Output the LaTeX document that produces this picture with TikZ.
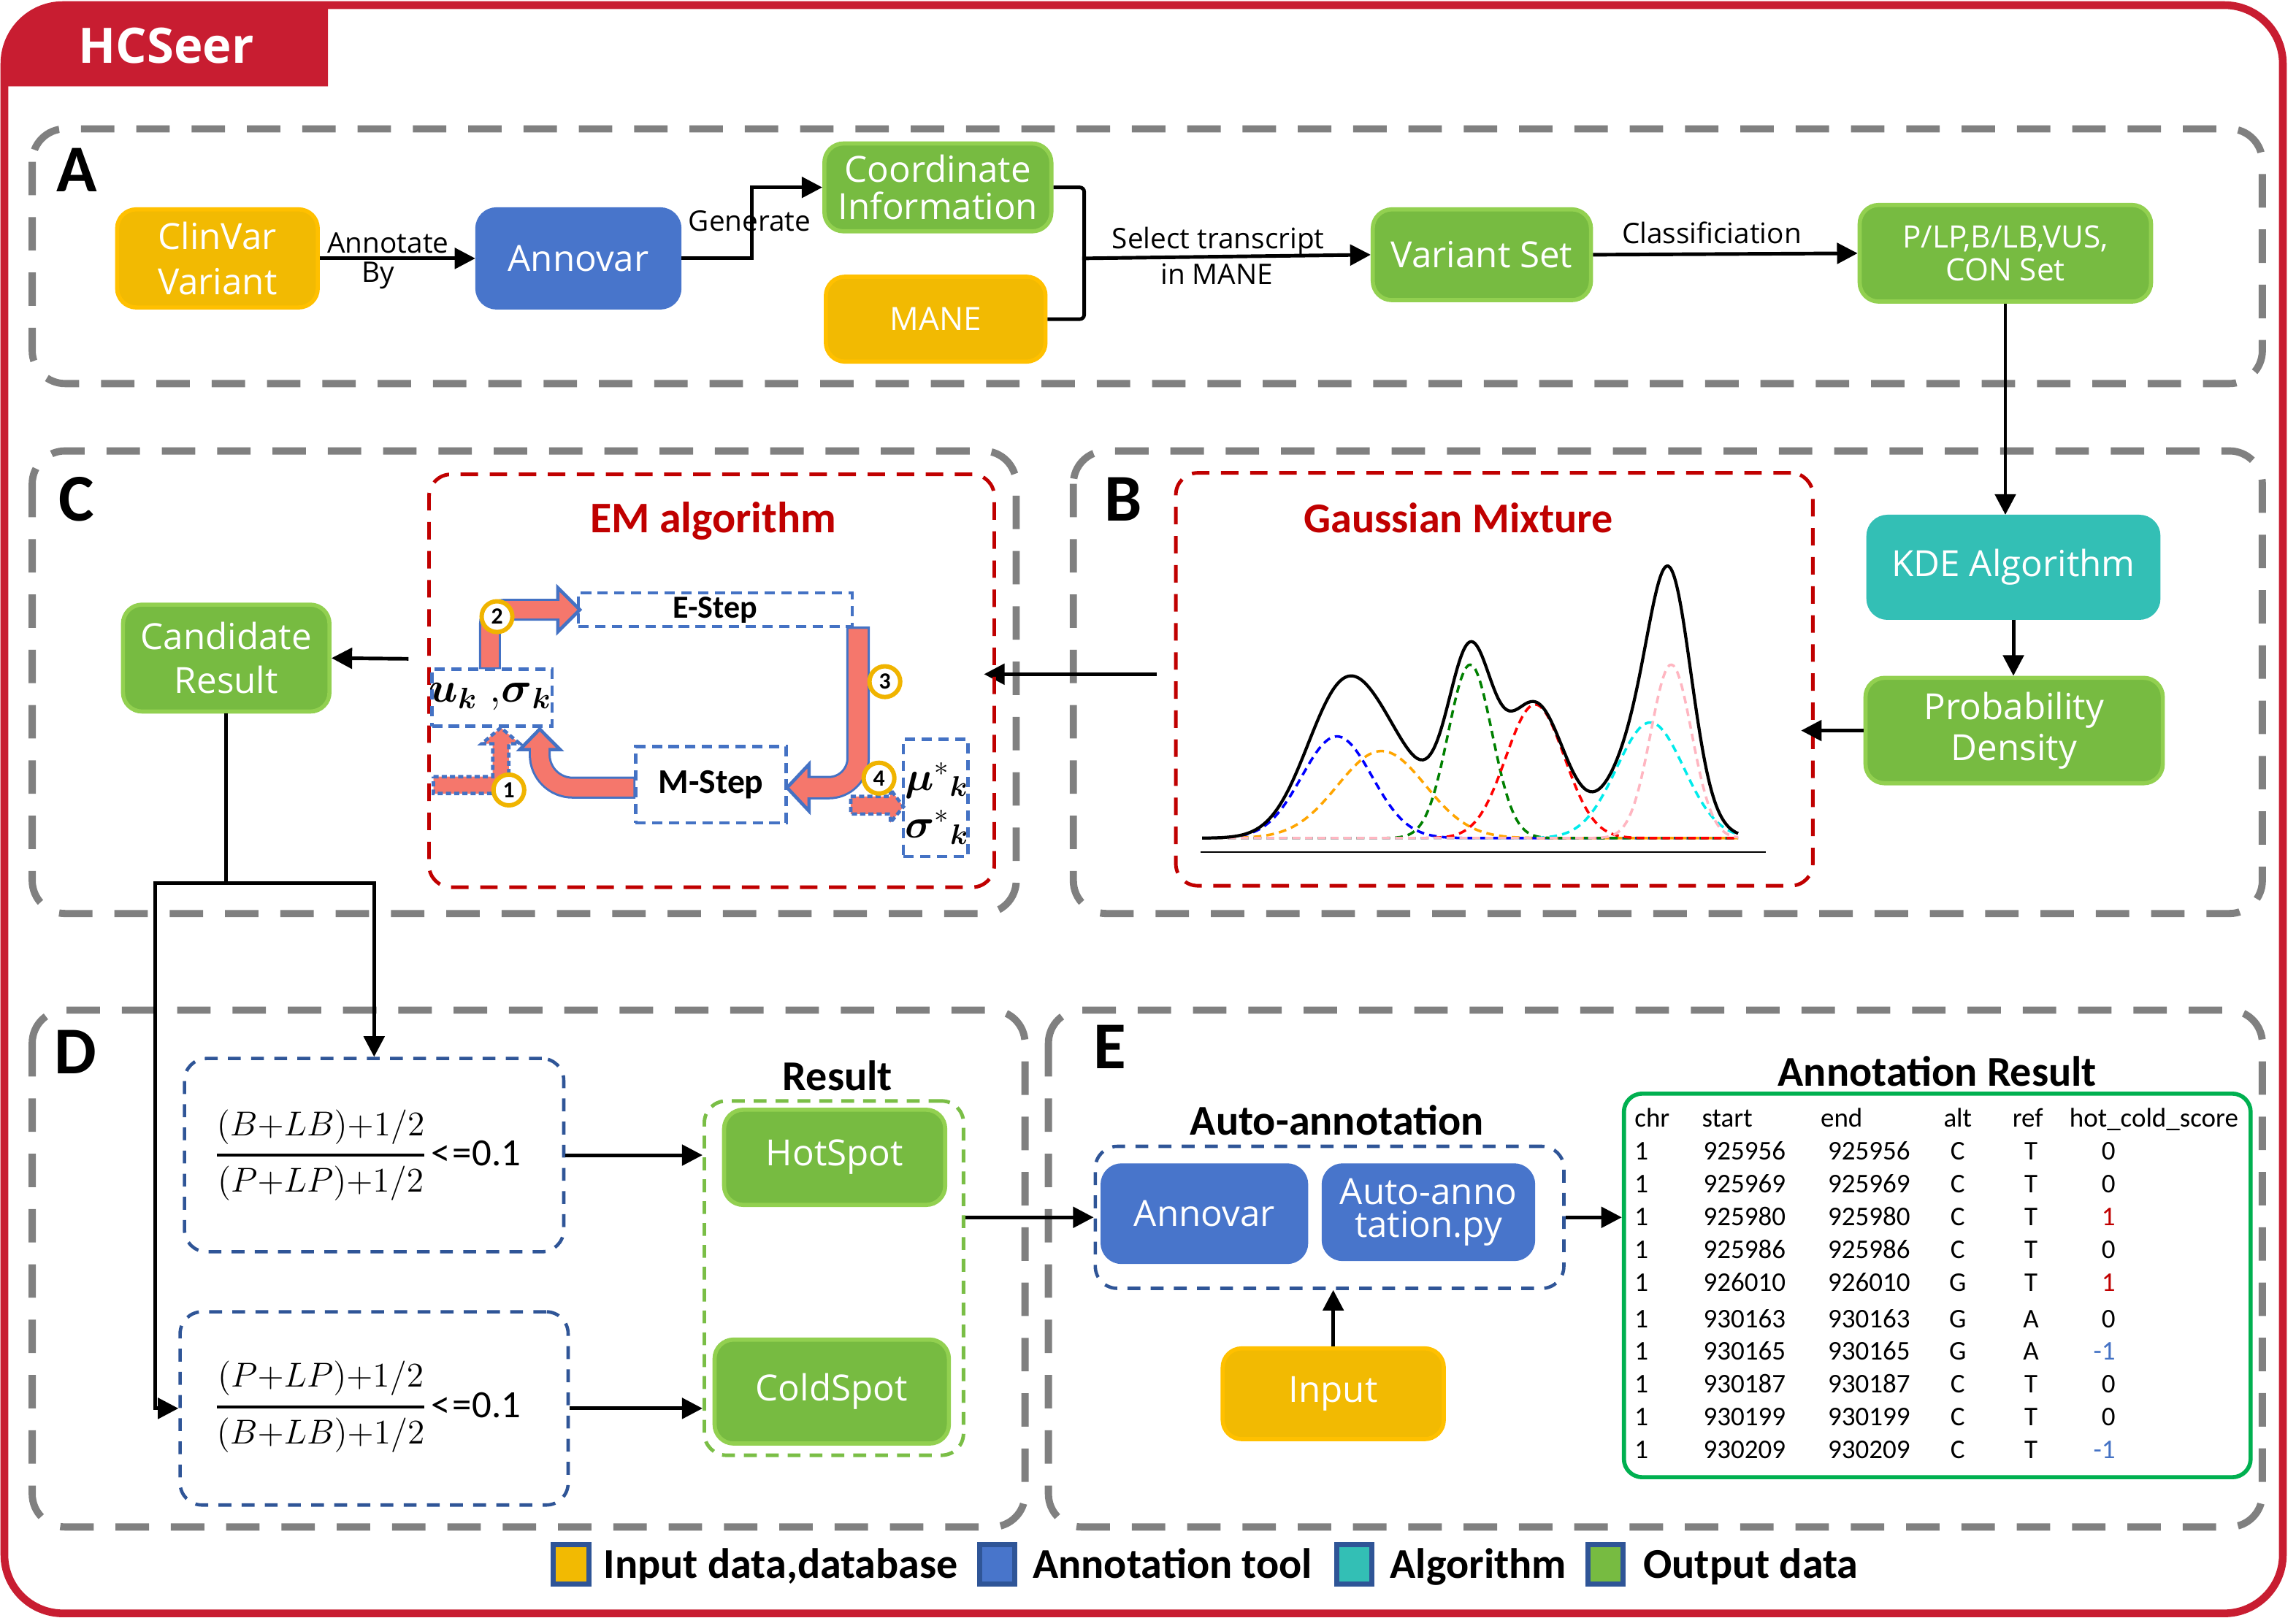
\documentclass[tikz,border=0pt]{standalone}
\usepackage{amsmath}
\usepackage[no-math]{fontspec}
\setmainfont{Carlito}
\newfontfamily\osf{Open Sans}
\usetikzlibrary{arrows.meta}
\definecolor{frame}{RGB}{200,29,49}
\definecolor{dgray}{RGB}{128,128,128}
\definecolor{ylwf}{RGB}{242,186,2}
\definecolor{ylwd}{RGB}{255,192,0}
\definecolor{grnf}{RGB}{119,187,65}
\definecolor{grnd}{RGB}{146,208,80}
\definecolor{bluf}{RGB}{72,117,203}
\definecolor{teaf}{RGB}{51,191,181}
\definecolor{emred}{RGB}{192,0,0}
\definecolor{emblue}{RGB}{68,114,196}
\definecolor{salmon}{RGB}{245,119,108}
\definecolor{circy}{RGB}{240,180,0}
\definecolor{navy}{RGB}{47,85,151}
\definecolor{tgreen}{RGB}{0,176,80}
\definecolor{resgreen}{RGB}{122,190,70}
\definecolor{gpink}{RGB}{255,182,193}
\definecolor{gorange}{RGB}{255,165,0}
\definecolor{ggreen}{RGB}{0,128,0}
\definecolor{gcyan}{RGB}{0,235,235}
\begin{document}
\begin{tikzpicture}[x=0.02cm, y=-0.02cm,
  declare function={gs(\x,\m,\s,\h)=\h*exp(-0.5*min(24,((\x-\m)/\s)^2));
    tot(\x)=gs(\x,913,24,69.5)+gs(\x,943.5,30,59.5)+gs(\x,1004,15,118.5)+gs(\x,1048.4,20,91.3)+gs(\x,1127,23,79)+gs(\x,1141.3,14,118.5);},
  sz/.style 2 args={minimum width=#1*0.02cm, minimum height=#2*0.02cm},
  unode/.style={rounded corners=0.26cm, align=center, text=white, inner sep=0pt, line width=1.6pt, font=\osf\fontsize{14}{17}\selectfont},
  ysty/.style={unode, fill=ylwf, draw=ylwd},
  gsty/.style={unode, fill=grnf, draw=grnd},
  bsty/.style={unode, fill=bluf, draw=bluf},
  tsty/.style={unode, fill=teaf, draw=teaf},
  lbl/.style={inner sep=0pt, font=\osf\fontsize{11}{13}\selectfont},
  sect/.style={draw=dgray, line width=2.8pt, dash pattern=on 13pt off 8.5pt, rounded corners=0.45cm},
  letter/.style={inner sep=0pt, font=\bfseries\fontsize{26}{26}\selectfont},
  ttl/.style={inner sep=0pt, font=\bfseries\fontsize{16.5}{16.5}\selectfont},
  emdash/.style={draw=emred, line width=1.4pt, dash pattern=on 6.8pt off 4.5pt, rounded corners=0.3cm, inner sep=0pt},
  ebox/.style={draw=emblue, line width=1.3pt, dash pattern=on 4pt off 2.5pt, inner sep=0pt},
  fbox/.style={draw=navy, line width=1.3pt, dash pattern=on 5pt off 4pt, rounded corners=0.3cm, inner sep=0pt},
  rbox/.style={draw=resgreen, line width=1.4pt, dash pattern=on 5pt off 3.5pt, rounded corners=0.3cm, inner sep=0pt},
  arr/.style={draw=black, line width=1.4pt, -{Triangle[length=8pt,width=8pt]}},
  conn/.style={draw=black, line width=1.4pt},
  numc/.style={circle, draw=circy, line width=1.7pt, fill=white, minimum size=0.42cm, inner sep=0pt, font=\bfseries\fontsize{9}{9}\selectfont},
  dotarr/.style={fill=salmon, draw=emblue, line width=1.3pt, dash pattern=on 2pt off 1.2pt},
  headarr/.style={fill=salmon, draw=emblue, line width=1.3pt, line join=miter},
  gcomp/.style={line width=1pt, dash pattern=on 3pt off 2pt},
  tx/.style={inner sep=0pt, font=\fontsize{10.5}{10.5}\selectfont},
  mth/.style={inner sep=0pt, font=\fontsize{14}{14}\selectfont},
  lsq/.style={draw=navy, line width=2pt, minimum width=0.48cm, minimum height=0.54cm, inner sep=0pt},
  lgt/.style={inner sep=0pt, font=\bfseries\fontsize{16.5}{16.5}\selectfont}
]
\useasboundingbox (0,0) rectangle (1568,1105);
% frame and title tab
\fill[frame] (224,59) -- (3,59) [rounded corners=0.8cm] -- (3,3.5) [sharp corners] -- (224,3.5) -- cycle;
\draw[frame, line width=3pt, rounded corners=0.8cm] (3,3.5) rectangle (1559,1102);
\node[font=\osf\bfseries\fontsize{19}{19}\selectfont, text=white] (title) at (113.5,31) {HCSeer};

% section frames
\draw[sect] (22,88) rectangle (1545,262);
\draw[sect] (22,308) rectangle (694,624);
\draw[sect] (733,308) rectangle (1545,624);
\draw[sect] (22,690) rectangle (700,1043);
\draw[sect] (716,690) rectangle (1545,1043);
\node[letter] (lA) at (52.7,116) {A};
\node[letter] (lC) at (52,341) {C};
\node[letter] (lB) at (767,341) {B};
\node[letter] (lD) at (51.5,718.5) {D};
\node[letter] (lE) at (758,715) {E};

% ---------- A ----------
\node[ysty, sz={137}{67}, font=\osf\fontsize{14}{17.5}\selectfont] (clinvar) at (148.5,176.5) {ClinVar\\Variant};
\node[bsty, sz={138}{67}] (annA) at (395,176.5) {Annovar};
\node[gsty, sz={155}{60}, font=\osf\fontsize{14}{14.5}\selectfont] (coord) at (640.5,128) {Coordinate\\Information};
\node[ysty, sz={150}{58}, font=\osf\fontsize{12.5}{14}\selectfont] (mane) at (639,218) {MANE};
\node[gsty, sz={149}{62}] (varset) at (1012,174) {Variant Set};
\node[gsty, sz={199}{66}, font=\osf\fontsize{12}{12.5}\selectfont] (plp) at (1369.5,173) {P/LP,B/LB,VUS,\\CON Set};
\node[lbl] (tAnn) at (265,166) {Annotate};
\node[lbl] (tBy) at (258,188) {By};
\node[lbl] (tGen) at (512,151) {Generate};
\node[lbl] (tSel) at (832,165) {Select transcript};
\node[lbl] (tMane) at (831,187) {in MANE};
\node[lbl] (tCls) at (1169,159) {Classificiation};
\draw[arr] (clinvar.east) -- (annA.west);
\draw[arr] (annA.east) -- ++(48,0) |- (coord.west);
\draw[conn, rounded corners=0.06cm] (coord.east) -- ++(21,0) |- (mane.east);
\coordinate (brk) at (739,176.5);
\draw[arr] (brk) -- (varset.west);
\draw[arr] (varset.east) -- (plp.west);

% ---------- B ----------
\node[tsty, sz={198}{69}] (kde) at (1375,387.5) {KDE Algorithm};
\node[gsty, sz={203}{72}, font=\osf\fontsize{14}{16}\selectfont] (pd) at (1375.5,499) {Probability\\Density};
\draw[arr] (plp.south) -- (plp.south |- kde.north);
\draw[arr] (kde.south) -- (kde.south |- pd.north);
\node[emdash, sz={435}{282}] (gmbox) at (1020.5,464) {};
\node[ttl, text=emred] (gmt) at (996,354) {Gaussian Mixture};
\coordinate (pdin) at (1230,499);
\draw[arr] (pd.west) -- (pdin);
\draw[line width=0.7pt] (820,582) -- (1206,582);
\draw[gcomp, blue] plot[smooth, domain=821:1187, samples=120] (\x,{572.5-gs(\x,913,24,69.5)});
\draw[gcomp, gorange] plot[smooth, domain=821:1187, samples=120] (\x,{572.5-gs(\x,943.5,30,59.5)});
\draw[gcomp, ggreen] plot[smooth, domain=821:1187, samples=150] (\x,{572.5-gs(\x,1004,15,118.5)});
\draw[gcomp, red] plot[smooth, domain=821:1187, samples=150] (\x,{572.5-gs(\x,1048.4,20,91.3)});
\draw[gcomp, gcyan] plot[smooth, domain=821:1187, samples=150] (\x,{572.5-gs(\x,1127,23,79)});
\draw[gcomp, gpink] plot[smooth, domain=821:1187, samples=150] (\x,{572.5-gs(\x,1141.3,14,118.5)});
\draw[line width=1.2pt] plot[smooth, domain=821:1187, samples=200] (\x,{572.5-tot(\x)});
\coordinate (bsrc) at (790,460.5);
\coordinate (emin) at (672,460.5);
\draw[arr] (bsrc) -- (emin);

% ---------- C ----------
\node[emdash, sz={386}{282}] (embox) at (486,465) {};
\node[ttl, text=emred, font=\bfseries\fontsize{17}{17}\selectfont] (emt) at (487,356) {EM algorithm};
\node[ebox, sz={187}{23}, font=\bfseries\fontsize{12.5}{12.5}\selectfont] (estep) at (488.5,416.5) {E-Step};
\node[ebox, sz={82}{39}] (ukbox) at (336,476.5) {};
\node[ebox, sz={103}{52}, font=\bfseries\fontsize{13.5}{13.5}\selectfont] (mstep) at (485.5,536) {M-Step};
\node[ebox, sz={44}{80}] (mubox) at (639,545) {};
% arrow 4 (dotted)
\filldraw[dotarr] (581,544) -- (608,544) -- (608,539) -- (617,551) -- (608,562) -- (608,556) -- (581,556) -- cycle;
% arrow 1 (dotted)
\filldraw[dotarr] (296,530.5) -- (336.5,530.5) -- (336.5,508) -- (329,508) -- (342,497) -- (355,508) -- (347.5,508) -- (347.5,542) -- (296,542) -- cycle;
% arrow 2
\draw[emblue, line width=0.30cm, rounded corners=0.2cm] (334.6,457) -- (334.6,416.5) -- (385,416.5);
\filldraw[headarr] (381,401.5) -- (396,416.5) -- (381,431.5) -- cycle;
\draw[salmon, line width=0.24cm, rounded corners=0.2cm] (334.6,455.8) -- (334.6,416.5) -- (383,416.5);
% arrow 3
\draw[emblue, line width=0.32cm, rounded corners=0.4cm] (586,428) -- (586,538) -- (553,538);
\filldraw[headarr] (552.5,522) -- (537.5,538) -- (552.5,554) -- cycle;
\draw[salmon, line width=0.26cm, rounded corners=0.4cm] (586,429.6) -- (586,538) -- (551,538);
% arrow M-step to parameters
\draw[emblue, line width=0.30cm, rounded corners=0.45cm] (434,538) -- (368.6,538) -- (368.6,512);
\filldraw[headarr] (355,512) -- (368.6,498) -- (382.5,512) -- cycle;
\draw[salmon, line width=0.24cm, rounded corners=0.45cm] (432.6,538) -- (368.6,538) -- (368.6,510.5);
\node[numc] (n1) at (347.5,539.6) {1};
\node[numc] (n2) at (339.4,421.2) {2};
\node[numc] (n3) at (604.3,465.6) {3};
\node[numc] (n4) at (600.3,531.5) {4};
\node[mth] (uktxt) at (335,476) {\scalebox{1.15}{$\boldsymbol{u}_{\boldsymbol{k}}\;{,}\boldsymbol{\sigma}_{\boldsymbol{k}}$}};
\node[mth] (mutxt) at (640,533) {\scalebox{1.1}{$\boldsymbol{\mu}^{*}{}_{\boldsymbol{k}}$}};
\node[mth] (sgtxt) at (640,565) {\scalebox{1.1}{$\boldsymbol{\sigma}^{*}{}_{\boldsymbol{k}}$}};
\node[gsty, sz={141}{73}] (cand) at (154.5,449.5) {Candidate\\Result};
\coordinate (emout) at (279,450);
\draw[arr] (emout) -- (cand.east);

% ---------- D ----------
\node[fbox, sz={259}{132}] (hotf) at (255.5,789) {};
\node[fbox, sz={265}{132}] (coldf) at (255.5,962) {};
\node[inner sep=0pt, font=\fontsize{12}{14}\selectfont] (hfrac) at (219,789) {\scalebox{1.12}{$\genfrac{}{}{1.1pt}{0}{(B{+}LB){+}1/2}{(P{+}LP){+}1/2}$}};
\node[inner sep=0pt, font=\fontsize{15}{15}\selectfont] (hle) at (325,788) {<\kern1pt=0.1};
\node[inner sep=0pt, font=\fontsize{12}{14}\selectfont] (cfrac) at (219,961) {\scalebox{1.12}{$\genfrac{}{}{1.1pt}{0}{(P{+}LP){+}1/2}{(B{+}LB){+}1/2}$}};
\node[inner sep=0pt, font=\fontsize{15}{15}\selectfont] (cle) at (325,960) {<\kern1pt=0.1};
\coordinate (split) at (154.5,603);
\draw[conn] (cand.south) -- (split);
\draw[arr] (split) -| (hotf.north);
\draw[arr] (split) -- (106,603) |- (coldf.west);
\node[rbox, sz={177}{242}] (resbox) at (569.5,873) {};
\node[ttl] (rest) at (572,735) {Result};
\node[gsty, sz={151}{65}] (hot) at (570,790.5) {HotSpot};
\node[gsty, sz={160}{71}] (cold) at (568,950.5) {ColdSpot};
\draw[arr] (hotf.east) -- (resbox.west |- hotf.east);
\draw[arr] (coldf.east) -- (resbox.west |- coldf.east);

% ---------- E ----------
\node[ttl] (aat) at (913,765) {Auto-annotation};
\node[fbox, sz={320}{97}] (autobox) at (908,831.5) {};
\node[bsty, sz={139}{66}] (annE) at (822.5,829) {Annovar};
\node[bsty, sz={143}{64}, font=\osf\fontsize{14}{13}\selectfont] (autopy) at (975.5,828) {Auto-anno\\tation.py};
\node[ysty, sz={151}{62}] (input) at (910.5,952) {Input};
\draw[arr] (input.north) -- (input.north |- autobox.south);
\draw[arr] (resbox.east |- autobox.west) -- (autobox.west);
\node[ttl] (art) at (1323,732) {Annotation Result};
\node[draw=tgreen, line width=1.6pt, rounded corners=0.25cm, sz={428}{262}, inner sep=0pt] (tbl) at (1323,878) {};
\draw[arr] (autobox.east) -- (tbl.west |- autobox.east);
\node[tx, anchor=base west] (h1) at (1116,770) {chr};
\node[tx, anchor=base west] (h2) at (1162,770) {start};
\node[tx, anchor=base west] (h3) at (1243,770) {end};
\node[tx, anchor=base west] (h4) at (1327,770) {alt};
\node[tx, anchor=base west] (h5) at (1374,770) {ref};
\node[tx, anchor=base west] (h6) at (1413,770) {hot\_cold\_score};
\foreach \y/\s/\a/\r/\v/\c [count=\i] in {786/925956/C/T/0/black, 808.5/925969/C/T/0/black, 831/925980/C/T/1/emred, 853.5/925986/C/T/0/black, 876/926010/G/T/1/emred, 901/930163/G/A/0/black, 923/930165/G/A/-1/emblue, 945.5/930187/C/T/0/black, 968/930199/C/T/0/black, 990/930209/C/T/-1/emblue}{
  \node[tx, anchor=base west] (ch\i) at (1116,{\y+6}) {1};
  \node[tx, anchor=base west] (st\i) at (1163,{\y+6}) {\s};
  \node[tx, anchor=base west] (en\i) at (1248,{\y+6}) {\s};
  \node[tx, anchor=base] (al\i) at (1337,{\y+6}) {\a};
  \node[tx, anchor=base] (rf\i) at (1387,{\y+6}) {\r};
  \node[tx, anchor=base east, text=\c] (sc\i) at (1445,{\y+6}) {\v};
}

% ---------- legend ----------
\node[lsq, fill=ylwf] (lg1) at (390,1068.5) {};
\node[lgt, anchor=base west] (lt1) at (412,1078) {Input data,database};
\node[lsq, fill=bluf] (lg2) at (681,1068.5) {};
\node[lgt, anchor=base west] (lt2) at (705,1078) {Annotation tool};
\node[lsq, fill=teaf] (lg3) at (925,1068.5) {};
\node[lgt, anchor=base west] (lt3) at (949,1078) {Algorithm};
\node[lsq, fill=grnf] (lg4) at (1096.5,1068.5) {};
\node[lgt, anchor=base west] (lt4) at (1122,1078) {Output data};
\end{tikzpicture}
\end{document}
